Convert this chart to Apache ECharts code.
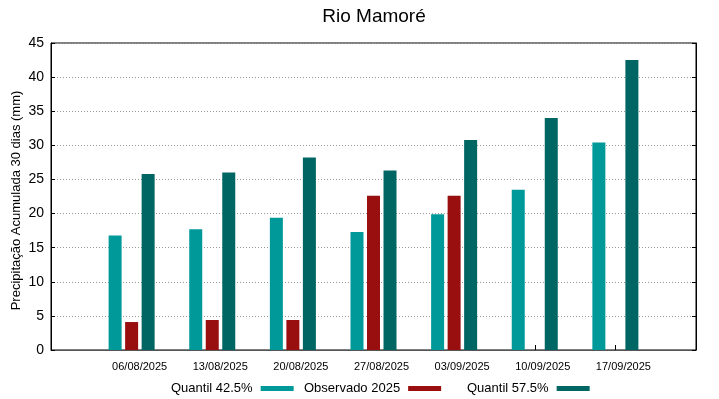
<!DOCTYPE html>
<html>
<head>
<meta charset="utf-8">
<script src="https://cdn.jsdelivr.net/npm/echarts@6/dist/echarts.min.js"></script>
<style>
  html, body { margin: 0; padding: 0; background: #fff; }
  #main { width: 719px; height: 399px; }
</style>
</head>
<body>
<div id="main"></div>
<script>
// datas das semanas
var datas = ["06/08/2025", "13/08/2025", "20/08/2025", "27/08/2025", "03/09/2025", "10/09/2025", "17/09/2025"];
var quantil425 = [16.8, 17.7, 19.4, 17.3, 19.9, 23.5, 30.4];
var observado = [4.1, 4.4, 4.4, 22.6, 22.6, null, null];
var quantil575 = [25.8, 26.0, 28.2, 26.3, 30.8, 34.0, 42.5];
var yTicks = [0, 5, 10, 15, 20, 25, 30, 35, 40, 45];

var fonte = "Liberation Sans, Arial, sans-serif";
var cores = ["#009999", "#990f0f", "#006663"];

// eixo com uma posicao vazia em cada ponta (faixa 0..8 como no gnuplot)
var categorias = [""].concat(datas, [""]);
function pad(arr) {
  return [null].concat(arr, [null]);
}

var myChart = echarts.init(document.getElementById("main"));
var option = {
  animation: false,
  textStyle: { fontFamily: fonte },
  title: {
    text: "Rio Mamoré",
    left: 369,
    top: 2,
    textAlign: "center",
    textStyle: { fontSize: 19, fontWeight: "normal", color: "#000", fontFamily: fonte },
  },
  legend: [
    { name: "Quantil 42.5%", left: 166 },
    { name: "Observado 2025", left: 299 },
    { name: "Quantil 57.5%", left: 462 },
  ].map(function (l) {
    return {
      data: [l.name],
      left: l.left,
      top: 377,
      align: "right",
      icon: "rect",
      itemWidth: 33,
      itemHeight: 5,
      textStyle: { fontSize: 13, color: "#000", fontFamily: fonte, padding: [0, 3, 0, 0] },
    };
  }),
  grid: {
    left: 51,
    right: 23,
    top: 43,
    bottom: 49,
    outerBoundsMode: "none",
    containLabel: false,
    show: true,
    borderColor: "#000",
    borderWidth: 1,
  },
  xAxis: {
    type: "category",
    boundaryGap: false,
    data: categorias,
    axisLine: { show: true, lineStyle: { color: "#555", width: 1 } },
    axisTick: {
      show: true,
      inside: true,
      length: 5,
      lineStyle: { color: "#000" },
      interval: function (i) { return i > 0 && i < categorias.length - 1; },
    },
    axisLabel: {
      fontSize: 11,
      color: "#000",
      margin: 11,
      padding: [0, 0, 0, 16],
      interval: 0,
      fontFamily: fonte,
    },
    splitLine: { show: false },
  },
  yAxis: [
    {
      type: "value",
      min: 0,
      max: 45,
      interval: 5,
      name: "Precipitação Acumulada 30 dias (mm)",
      nameLocation: "middle",
      nameGap: 28,
      nameMoveOverlap: false,
      nameTextStyle: { fontSize: 13, color: "#000", fontFamily: fonte, padding: [0, 8, 0, 0] },
      axisLine: { show: true, lineStyle: { color: "#000" } },
      axisTick: { show: true, inside: true, length: 4, lineStyle: { color: "#000" } },
      axisLabel: {
        fontSize: 14,
        color: "#000",
        margin: 7,
        fontFamily: fonte,
        formatter: function (v) { return yTicks.indexOf(v) >= 0 ? String(v) : ""; },
      },
      splitLine: { show: true, lineStyle: { color: "#999", type: [1, 2], width: 1 } },
    },
    {
      type: "value",
      min: 0,
      max: 45,
      interval: 5,
      position: "right",
      axisLine: { show: true, lineStyle: { color: "#000" } },
      axisTick: { show: true, inside: true, length: 4, lineStyle: { color: "#000" } },
      axisLabel: { show: false },
      splitLine: { show: false },
    },
  ],
  series: [
    {
      name: "Quantil 42.5%",
      type: "bar",
      data: pad(quantil425),
      barWidth: 13,
      barGap: "27%",
      itemStyle: { color: cores[0] },
    },
    {
      name: "Observado 2025",
      type: "bar",
      data: pad(observado),
      barWidth: 13,
      barGap: "27%",
      itemStyle: { color: cores[1] },
    },
    {
      name: "Quantil 57.5%",
      type: "bar",
      data: pad(quantil575),
      barWidth: 13,
      barGap: "27%",
      itemStyle: { color: cores[2] },
    },
  ],
};
myChart.setOption(option);
</script>
</body>
</html>
